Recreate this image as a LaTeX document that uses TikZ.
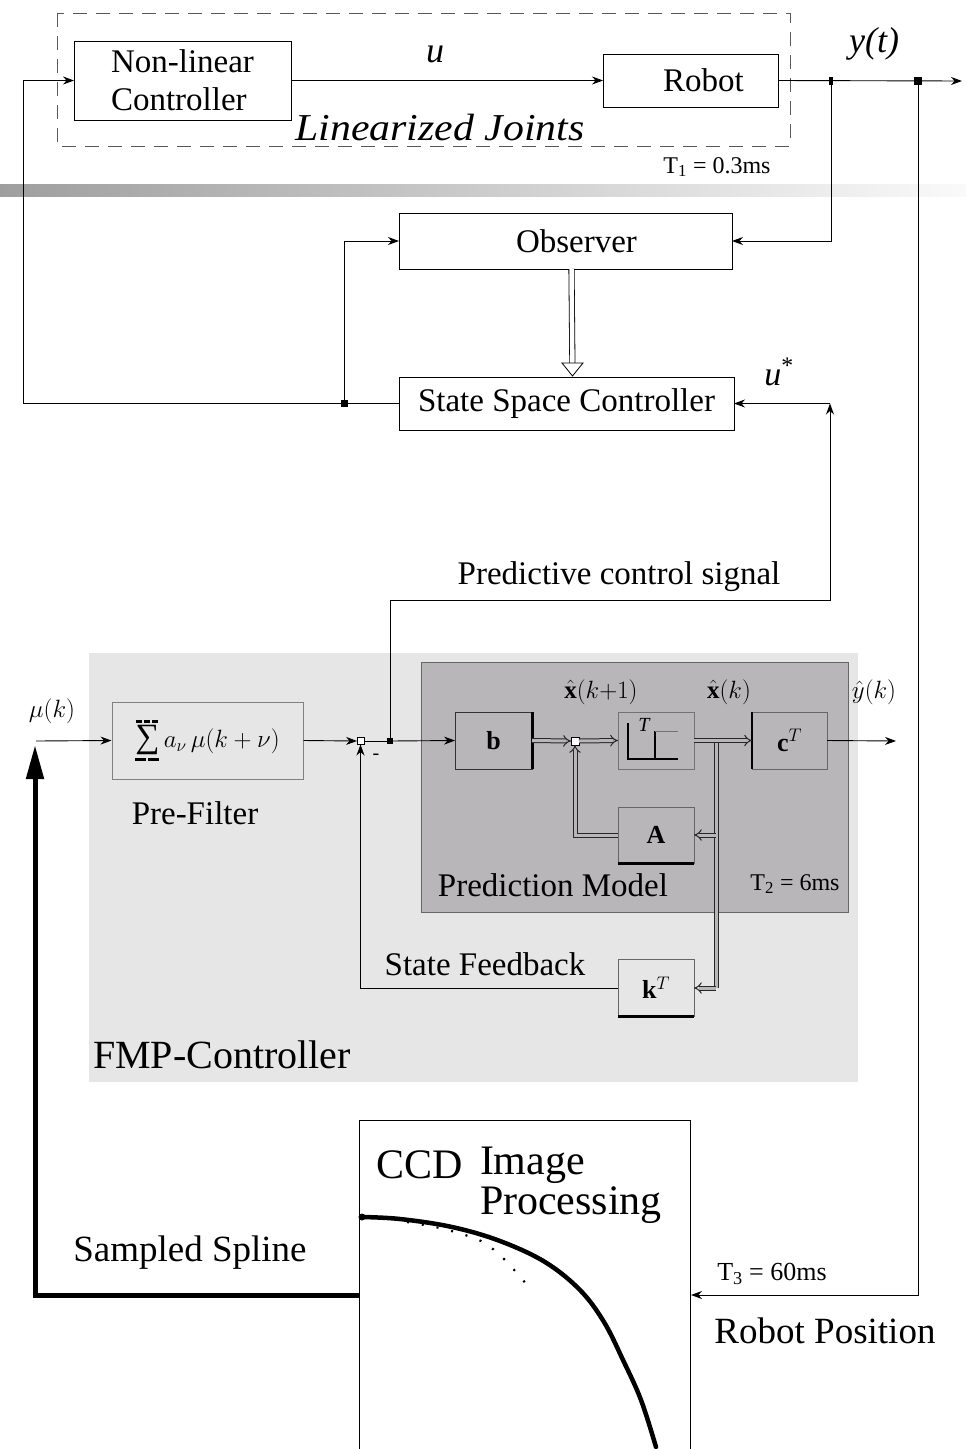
\RequirePackage{fix-cm}
\documentclass[tikz,border=0pt]{standalone}
\usepackage{fontspec}
\setmainfont{Liberation Serif}
\usepackage{graphicx}
\usetikzlibrary{arrows.meta,calc}
\definecolor{fmpbg}{HTML}{E6E6E6}
\definecolor{pmbg}{HTML}{B8B6B9}
\newcommand\fsz[2]{\fontsize{#1}{#2}\selectfont}
\newcommand\upbar{\rule{6pt}{3pt}\hspace{2pt}\rule{6pt}{3pt}\hspace{2pt}\rule{6pt}{3pt}}
\newcommand\lowbar{\rule{11pt}{3pt}\hspace{2pt}\rule{11pt}{3pt}}
\newcommand\bigsum{\mathop{\hbox{\fsz{34}{34}∑}}}
\begin{document}
\begin{tikzpicture}[x=1pt,y=-1pt,line width=0.9pt,
  arr/.style={-{Stealth[length=11pt,width=8pt]}},
  box/.style={draw,line width=1pt,fill=white,inner sep=0pt,outer sep=0pt,align=center,font=\fsz{33}{38}},
  pmbox/.style={draw=black!60,line width=1pt,fill=pmbg,inner sep=0pt,outer sep=0pt,font=\fsz{26}{28}},
  jdot/.style={fill=black,inner sep=0pt,outer sep=0pt},
  sumj/.style={draw,fill=white,line width=0.7pt,minimum size=7,inner sep=0pt,outer sep=0pt},
  dbl/.style={draw=black!85,line width=1pt,double=pmbg,double distance=3pt},
  dtip/.style={-{Implies[length=8pt,width=10pt]}},
  lab/.style={inner sep=0pt,outer sep=0pt},
  big/.style={lab,font=\fsz{33}{38}},
  small/.style={lab,font=\fsz{24}{26}},
  mathl/.style={lab,font=\fsz{25}{28}}]
\useasboundingbox (0,0) rectangle (966,1449);

% ---------- inner joint loop ----------
\draw[black!65,line width=0.9pt,dash pattern=on 14pt off 9pt] (57,13) rectangle (790,146);
\node[box,minimum width=217,minimum height=79,align=left] (nlc) at (182.5,80.5) {Non-linear\\Controller};
\node[box,minimum width=175,minimum height=53] (robot) at (690.5,80.5) {\hspace*{26pt}Robot};
\node[jdot,minimum width=4,minimum height=8] (j1) at (831,81) {};
\node[jdot,minimum width=8,minimum height=8] (j2) at (918,81) {};
\coordinate (yend) at (962,81);
\draw[arr] (nlc.east) -- (robot.west);
\draw[arr] (robot.east) -- (yend);
\node[lab,font=\fsz{36}{36}\itshape] (ulab) at (435,54) {u};
\node[lab,font=\fsz{38}{38}\itshape] (joints) at (440,128) {\scalebox{1.1}[1]{Linearized Joints}};
\node[lab,font=\fsz{36}{36}\itshape] (ylab) at (874,44) {y(t)};
\node[small] (t1) at (717,167) {T\textsubscript{1} = 0.3ms};

% separator band
\shade[left color=black!38,right color=black!2] (0,184) rectangle (966,196);

% ---------- observer / state space controller ----------
\node[box,minimum width=333,minimum height=56] (obs) at (565.5,241) {\hspace*{22pt}Observer};
\node[box,minimum width=335,minimum height=53] (ssc) at (566.5,403.5) {State Space Controller};
\node[jdot,minimum size=7] (j3) at (344,403.5) {};
\coordinate (cl) at (23,403.5);
\draw (ssc.west) -- (j3.center);
\draw[arr] (j3.center) -- (cl) |- (nlc.west);
\draw[arr] (j3.center) |- (obs.west);
\draw[arr] (j1.center) |- (obs.east);
\draw[black,line width=0.8pt,double=white,double distance=4.5pt,shorten >=13pt] ($(obs.south)+(6,0)$) -- ($(ssc.north)+(6,0)$);
\draw[fill=white,line width=0.8pt] ($(ssc.north)+(6,-1)$) -- ++(-10.5,-13) -- ++(21,0) -- cycle;
\node[lab,font=\fsz{34}{34}] (ustar) at (779,372) {\textit{u}\textsuperscript{*}};

% ---------- FMP controller ----------
\node[fill=fmpbg,minimum width=769,minimum height=429,inner sep=0pt] (fmp) at (473.5,867.5) {};
\node[pmbox,minimum width=427,minimum height=250] (pm) at (634.5,787) {};
\node[draw=black!50,fill=fmpbg,line width=1pt,minimum width=191,minimum height=77,inner sep=0pt,font=\fsz{25}{28}] (pf) at (207.5,740.5)
  {$\bigsum\limits_{\lowbar}^{\upbar} a_{\nu}\,\mu(k+\nu)$};
\node[sumj] (s1) at (360.5,741) {};
\node[jdot,minimum size=6] (jp) at (390,741) {};
\node[pmbox,draw=black!80,minimum width=77,minimum height=57] (bb) at (493.5,740.5) {$\mathbf{b}$};
\draw[line width=3pt] (bb.north east) -- (bb.south east);
\node[sumj,minimum size=8] (s2) at (575,741) {};
\node[pmbox,draw=black!55,minimum width=76,minimum height=57] (tb) at (656,740.5) {};
\draw[line width=1.2pt] (628,723) -- (628,759) -- (678,759);
\draw[line width=1.5pt] (655,731) -- (655,759);
\draw[black!55,line width=0.8pt] (655,731) -- (678,731);
\node[lab,font=\fsz{20}{20}\itshape] (tlab) at (644,725) {T};
\node[pmbox,draw=black!60,minimum width=75,minimum height=57] (cb) at (789.5,740.5) {$\mathbf{c}^{T}$};
\draw[line width=2pt] (cb.north west) -- (cb.south west);
\node[pmbox,draw=black!60,minimum width=76,minimum height=56] (ab) at (656,835) {$\mathbf{A}$};
\draw[line width=3pt] (ab.south west) -- (ab.south east);
\node[pmbox,fill=fmpbg,draw=black!60,minimum width=76,minimum height=57] (kb) at (656,988) {$\mathbf{k}^{T}$};
\draw[line width=3pt] (kb.south west) -- (kb.south east);

\coordinate (br) at (716,741);
\coordinate (bk) at (716,988);
\coordinate (ba) at (716,835);
\draw[dbl] (br) -- (bk);
\draw[dbl,dtip] (bk) -- (kb.east);
\draw[dbl,dtip] (ba) -- (ab.east);
\draw[dbl,dtip] (ab.west) -| (s2.south);
\draw[dbl,dtip] (bb.east) -- (s2.west);
\draw[dbl,dtip] (s2.east) -- (tb.west);
\draw[dbl,dtip] (tb.east) -- (cb.west);

\coordinate (yk) at (896,741);
\coordinate (muin) at (36,741);
\draw[arr] (cb.east) -- (yk);
\draw[arr] (muin) -- (pf.west);
\draw[arr] (pf.east) -- (s1.west);
\draw (s1.east) -- (jp.center);
\draw[arr] (jp.center) -- (bb.west);
\draw[arr] (kb.west) -| (s1.south);

% predictive control signal to the state space controller
\coordinate (pcr) at (830,600);
\coordinate (pct) at (830,403.5);
\draw[arr] (jp.center) |- (pcr) -- (pct);
\draw[arr] (pct) -- (ssc.east);

\node[big] (pcs) at (619,577) {Predictive control signal};
\node[mathl] (mulab) at (52,711) {$\mu(k)$};
\node[mathl] (xk1) at (601,692) {$\hat{\mathbf{x}}(k{+}1)$};
\node[mathl] (xk) at (729,692) {$\hat{\mathbf{x}}(k)$};
\node[mathl] (yhat) at (874,692) {$\hat{y}(k)$};
\node[big] (pflab) at (195,813) {Pre-Filter};
\node[big] (pmlab) at (553,885) {Prediction Model};
\node[small] (t2) at (795,884) {T\textsubscript{2} = 6ms};
\node[big] (sflab) at (485,964) {State Feedback};
\node[lab,font=\fsz{20}{20}] (minus) at (376,757) {-};
\node[lab,font=\fsz{40}{40},anchor=west] (fmplab) at (93,1055) {FMP-Controller};

% ---------- image processing ----------
\node[draw,line width=1pt,fill=white,minimum width=331,minimum height=350,inner sep=0pt] (ccd) at (525,1295) {};
\node[lab,font=\fsz{42}{42},anchor=west] (ccdlab) at (376,1165) {CCD};
\node[lab,font=\fsz{42}{42},anchor=west] (imglab) at (480,1165) {Image};
\node[lab,font=\fsz{42}{42},anchor=west] (proclab) at (480,1205) {Processing};
\draw[line width=4.5pt,line cap=round] plot[smooth,tension=0.6] coordinates {(361,1217) (400,1219) (452,1227) (500,1241) (545,1262) (580,1290) (604,1322) (623,1360) (641,1400) (656,1447)};
\fill (362,1217) circle (3.5);
\draw[line width=2.2pt,dash pattern=on 2pt off 13pt] plot[smooth] coordinates {(407,1222) (444,1229) (481,1241) (505,1260) (533,1292)};

\coordinate (mutip) at (35,745);
\draw[line width=5pt,-{Triangle[length=34pt,width=17pt]}] (ccd.west) -| (mutip);
\draw[arr] (j2.center) |- (ccd.east);

\node[lab,font=\fsz{37}{37}] (splab) at (190,1253) {Sampled Spline};
\node[lab,font=\fsz{26}{26}] (t3) at (772,1274) {T\textsubscript{3} = 60ms};
\node[lab,font=\fsz{37}{37}] (rplab) at (825,1331) {Robot Position};
\end{tikzpicture}
\end{document}
